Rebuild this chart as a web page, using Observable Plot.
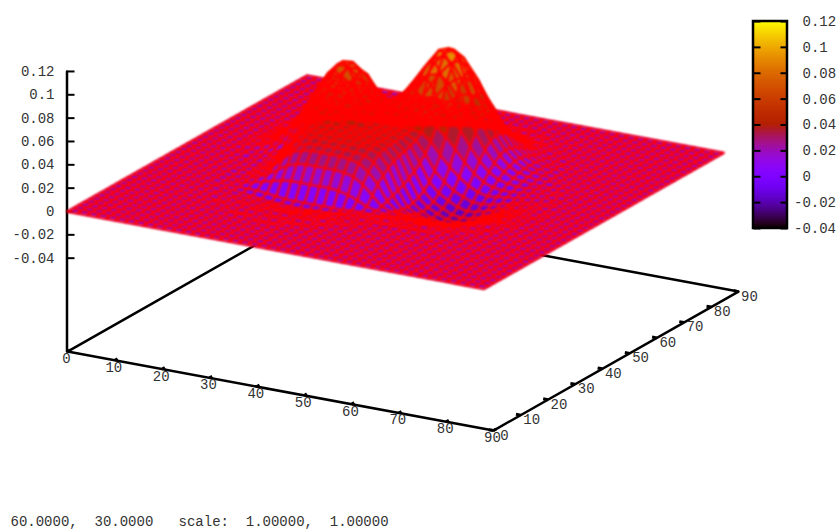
<!DOCTYPE html>
<html><head><meta charset="utf-8">
<style>html,body{margin:0;padding:0;background:#fff}</style>
<script src="https://cdn.jsdelivr.net/npm/d3@7"></script>
<script src="https://cdn.jsdelivr.net/npm/@observablehq/plot@0.6"></script>
</head><body><div id="chart"></div>
<script>
// surface heights in thousandths; columns are tableX, rows are tableY.
// Everything outside this table is the flat plane at height 0.
const tableX = [10,12,14,16,18,20,22,24,26,28,30,32,34,36,38,40,42,44,46,48,50,52,54,56,58,60,62,64,66,68,70,72,74,76];
const tableY = [80,78,76,74,72,70,68,66,64,62,60,58,56,54,52,50,48,46,44,42,40,38,36,34,32,30,28,26,24,22,20,18,16,14];
const heights = [
[0,0,0,0,0,0,0,0,0,0,0,0,0,0,0,1,1,1,1,1,1,1,0,0,0,0,0,0,0,0,0,0,0,0],
[0,0,0,0,0,0,0,0,0,0,0,0,0,1,1,1,2,2,2,2,2,1,1,1,0,0,0,0,0,0,0,0,0,0],
[0,0,0,0,0,0,0,0,0,0,0,0,1,1,2,3,4,4,5,4,4,3,2,1,1,0,0,0,0,0,0,0,0,0],
[0,0,0,0,0,0,0,0,1,1,1,1,2,3,4,6,8,9,9,9,8,6,4,3,2,1,0,0,0,0,0,0,0,0],
[0,0,0,0,0,1,1,1,2,2,2,3,4,6,8,11,14,17,17,17,14,11,8,5,3,2,1,0,0,0,0,0,0,0],
[0,0,0,1,1,2,2,3,4,4,4,5,7,10,14,19,24,28,29,28,24,19,14,9,5,3,1,1,0,0,0,0,0,0],
[0,0,1,1,2,4,5,6,8,8,9,9,12,16,22,30,37,43,45,43,37,29,21,14,8,4,2,1,0,0,0,0,0,0],
[0,1,1,3,5,7,10,12,14,15,15,14,15,20,32,42,52,59,62,59,51,41,29,19,11,6,3,1,1,0,0,0,0,0],
[0,1,2,5,8,12,17,22,25,26,22,21,23,28,41,54,66,75,79,75,65,51,37,24,14,8,4,2,1,0,0,0,0,0],
[1,2,4,7,12,19,27,34,38,39,34,30,30,36,50,63,77,87,91,86,75,59,42,27,16,9,4,2,1,0,0,0,0,0],
[1,2,5,10,17,27,38,47,53,54,51,43,38,42,54,67,81,92,95,91,78,61,44,28,17,9,4,2,1,0,0,0,0,0],
[1,3,6,12,22,33,47,58,66,67,63,52,46,46,55,66,78,87,91,86,74,58,41,26,15,7,3,1,0,0,0,0,0,0],
[1,3,7,14,24,37,52,66,74,75,69,60,52,48,51,58,68,76,78,74,63,49,34,21,11,5,1,0,-1,-1,-1,0,0,0],
[1,3,7,14,24,37,52,65,74,74,68,58,49,43,43,48,54,59,61,57,48,37,25,14,6,1,-1,-2,-2,-1,-1,-1,0,0],
[1,3,6,12,21,34,48,59,67,68,63,55,45,38,36,39,42,44,45,40,33,24,14,6,0,-3,-4,-4,-3,-2,-1,-1,0,0],
[1,2,5,10,18,28,39,49,57,58,55,48,41,38,37,37,37,37,36,30,20,11,4,-2,-6,-8,-7,-6,-5,-3,-2,-1,-1,0],
[1,2,4,8,13,21,30,39,45,48,47,43,40,38,37,37,37,36,32,22,9,1,-5,-9,-12,-12,-11,-9,-7,-4,-3,-2,-1,0],
[0,1,2,5,10,15,24,32,38,40,40,38,37,37,37,37,37,36,30,17,2,-6,-11,-15,-17,-16,-14,-11,-8,-5,-3,-2,-1,0],
[0,1,1,3,6,10,18,28,36,38,38,38,37,37,37,37,36,35,28,12,-3,-11,-15,-19,-20,-19,-16,-13,-9,-6,-4,-2,-1,-1],
[0,0,0,2,4,8,15,26,34,37,37,37,37,37,37,36,36,35,27,9,-6,-13,-17,-20,-21,-20,-17,-13,-10,-6,-4,-2,-1,-1],
[0,0,0,1,2,6,12,22,32,36,37,37,37,37,37,36,36,34,25,6,-8,-14,-18,-20,-21,-19,-16,-13,-9,-6,-4,-2,-1,-1],
[0,0,0,0,1,4,9,18,28,34,36,36,36,36,36,36,35,32,22,4,-9,-13,-16,-18,-19,-17,-15,-11,-8,-5,-3,-2,-1,0],
[0,0,0,0,0,3,7,14,23,30,33,34,34,34,34,33,32,28,18,2,-8,-11,-13,-15,-15,-14,-12,-9,-7,-4,-3,-2,-1,0],
[0,0,0,-1,0,2,5,12,20,27,30,31,31,31,31,30,28,22,13,0,-7,-9,-11,-12,-11,-10,-9,-7,-5,-3,-2,-1,-1,0],
[0,0,0,-1,-1,1,4,8,13,18,21,22,22,22,22,21,19,14,6,-2,-5,-6,-8,-8,-8,-7,-6,-5,-3,-2,-1,-1,0,0],
[0,0,0,-1,-1,0,2,4,6,8,9,9,9,9,9,8,6,3,-1,-3,-4,-5,-5,-5,-5,-5,-4,-3,-2,-1,-1,-1,0,0],
[0,0,0,-1,-1,-1,-1,-1,-2,-3,-4,-4,-4,-4,-4,-4,-4,-3,-3,-3,-3,-3,-3,-3,-3,-3,-2,-2,-1,-1,-1,0,0,0],
[0,0,0,0,-1,-1,-2,-3,-4,-5,-5,-6,-6,-6,-5,-5,-4,-3,-2,-2,-2,-1,-2,-2,-2,-1,-1,-1,-1,0,0,0,0,0],
[0,0,0,0,-1,-1,-2,-2,-3,-4,-4,-5,-5,-5,-4,-4,-3,-2,-2,-1,-1,-1,-1,-1,-1,-1,-1,0,0,0,0,0,0,0],
[0,0,0,0,0,-1,-1,-2,-2,-3,-3,-3,-4,-3,-3,-3,-2,-2,-1,-1,-1,0,0,0,0,0,0,0,0,0,0,0,0,0],
[0,0,0,0,0,-1,-1,-1,-1,-2,-2,-2,-2,-2,-2,-2,-1,-1,-1,-1,0,0,0,0,0,0,0,0,0,0,0,0,0,0],
[0,0,0,0,0,0,0,-1,-1,-1,-1,-2,-2,-2,-1,-1,-1,-1,0,0,0,0,0,0,0,0,0,0,0,0,0,0,0,0],
[0,0,0,0,0,0,0,0,-1,-1,-1,-1,-1,-1,-1,-1,-1,0,0,0,0,0,0,0,0,0,0,0,0,0,0,0,0,0],
[0,0,0,0,0,0,0,0,0,0,0,-1,-1,-1,0,0,0,0,0,0,0,0,0,0,0,0,0,0,0,0,0,0,0,0]
];
const gridX = d3.range(0, 90, 2);   // sample positions of the mesh
const gridY = d3.range(0, 90, 2);
const xTicks = [0,10,20,30,40,50,60,70,80,90];
const yTicks = [0,10,20,30,40,50,60,70,80,90];
const zTicks = [-0.04,-0.02,0,0.02,0.04,0.06,0.08,0.1,0.12];
const statusLine = "60.0000,  30.0000   scale:  1.00000,  1.00000";

const zBase = -0.12, zDomain = [-0.04, 0.12];

// gnuplot "set view 60,30" as measured on the picture
const X = (x, y) => 67 + 4.733 * x + 2.722 * y;
const Y = (x, y, z) => 211 + 0.878 * x - 1.544 * y - 1167 * z;

const rowIx = new Map(tableY.map((v, i) => [v, i]));
const colIx = new Map(tableX.map((v, i) => [v, i]));
const height = (x, y) => rowIx.has(y) && colIx.has(x) ? heights[rowIx.get(y)][colIx.get(x)] / 1000 : 0;
const vertex = (a, b) => ({sx: X(a, b), sy: Y(a, b, height(a, b))});

// filled quads from back (small x, large y) to front
const quads = [];
let id = 0;
for (const y of [...gridY].reverse().slice(1)) {
  for (const x of gridX.slice(0, -1)) {
    const c = [[x, y], [x + 2, y], [x + 2, y + 2], [x, y + 2]];
    const mean = d3.mean(c, ([a, b]) => height(a, b));
    for (const [a, b] of [...c, c[0]]) quads.push({id, mean, ...vertex(a, b)});
    id++;
  }
}
// the wire mesh lies on top of everything, hidden parts included
const mesh = [];
for (const y of gridY) for (const x of gridX) mesh.push({wire: "y" + y, ...vertex(x, y)});
for (const x of gridX) for (const y of gridY) mesh.push({wire: "x" + x, ...vertex(x, y)});

const palette = t => {
  const r = Math.sqrt(t), g = t * t * t, b = Math.max(0, Math.sin(2 * Math.PI * t));
  return `rgb(${Math.round(r * 255)},${Math.round(g * 255)},${Math.round(b * 255)})`;
};

// base rectangle + z axis
const base = [[0,0],[90,0],[90,90],[0,90],[0,0]].map(([a, b]) => ({sx: X(a, b), sy: Y(a, b, zBase)}));
const zAxis = [zBase, 0.12].map(z => ({sx: X(0, 0) - 0.5, sy: Y(0, 0, z)}));

// colour box
const cbY = z => 228 - (z - zDomain[0]) / (zDomain[1] - zDomain[0]) * 207;
const cbLeft = 753, cbRight = 787;
const cbSlices = d3.range(zDomain[0], zDomain[1], 0.001);

const font = {fontFamily: "'Liberation Mono', monospace", fontSize: 14, fill: "#333"};

const chart = Plot.plot({
  width: 838, height: 529, margin: 0,
  x: {domain: [0, 838], range: [0, 838], axis: null},
  y: {domain: [0, 529], range: [0, 529], axis: null},
  color: {type: "linear", domain: zDomain, interpolate: palette, clamp: true},
  style: {background: "#fff"},
  marks: [
    // base frame and ticks
    Plot.line(base, {x: "sx", y: "sy", stroke: "#000", strokeWidth: 2.5}),
    Plot.link(xTicks, {x1: t => X(t, 0), y1: t => Y(t, 0, zBase), x2: t => X(t, 1), y2: t => Y(t, 1, zBase), stroke: "#000", strokeWidth: 3}),
    Plot.link(yTicks, {x1: t => X(90, t), y1: t => Y(90, t, zBase), x2: t => X(89, t), y2: t => Y(89, t, zBase), stroke: "#000", strokeWidth: 3}),
    // z axis
    Plot.line(zAxis, {x: "sx", y: "sy", stroke: "#000", strokeWidth: 2.5}),
    Plot.link(zTicks, {x1: () => X(0, 0), y1: t => Y(0, 0, t), x2: () => X(0, 0) + 7, y2: t => Y(0, 0, t), stroke: "#000", strokeWidth: 2}),
    // surface: colour cells, then wire mesh
    Plot.line(quads, {x: "sx", y: "sy", z: "id", fill: "mean", stroke: "mean", strokeWidth: 0.6, className: "cells"}),
    Plot.line(mesh, {x: "sx", y: "sy", z: "wire", stroke: "#f00", strokeWidth: 2.3, className: "wires"}),
    // tick labels
    Plot.text(zTicks, {x: () => 54, y: t => Y(0, 0, t), text: t => String(t), textAnchor: "end", ...font}),
    Plot.text(xTicks, {x: t => X(t, 0) - 1, y: t => Y(t, 0, zBase) + 7, text: t => String(t), ...font}),
    Plot.text(yTicks, {x: t => X(90, t) + 11, y: t => Y(90, t, zBase) + 4.5, text: t => String(t), ...font}),
    // colour box
    Plot.rect(cbSlices, {x1: () => cbLeft, x2: () => cbRight, y1: z => cbY(z), y2: z => cbY(z + 0.001) - 1, fill: z => z}),
    Plot.link(zTicks, {x1: () => cbLeft, x2: () => cbLeft + 7, y1: z => cbY(z), y2: z => cbY(z), stroke: "#000", strokeWidth: 2}),
    Plot.link(zTicks, {x1: () => cbRight - 7, x2: () => cbRight, y1: z => cbY(z), y2: z => cbY(z), stroke: "#000", strokeWidth: 2}),
    Plot.rect([0], {x1: () => cbLeft, x2: () => cbRight, y1: () => cbY(zDomain[0]), y2: () => cbY(zDomain[1]), fill: "none", stroke: "#000", strokeWidth: 2.5}),
    Plot.text(zTicks, {x: z => z < 0 ? 793.5 : 802, y: z => cbY(z), text: z => String(z), textAnchor: "start", ...font}),
    // status line
    Plot.text([statusLine], {x: () => 10, y: () => 521, text: d => d, textAnchor: "start", ...font})
  ]
});
chart.querySelectorAll("text").forEach(t => t.setAttribute("xml:space", "preserve"));
chart.style.whiteSpace = "pre";
for (const cls of [".cells", ".wires"]) {
  const g = chart.querySelector(cls);
  if (g) g.style.filter = "blur(0.8px)";
}
document.getElementById("chart").append(chart);
</script></body></html>
